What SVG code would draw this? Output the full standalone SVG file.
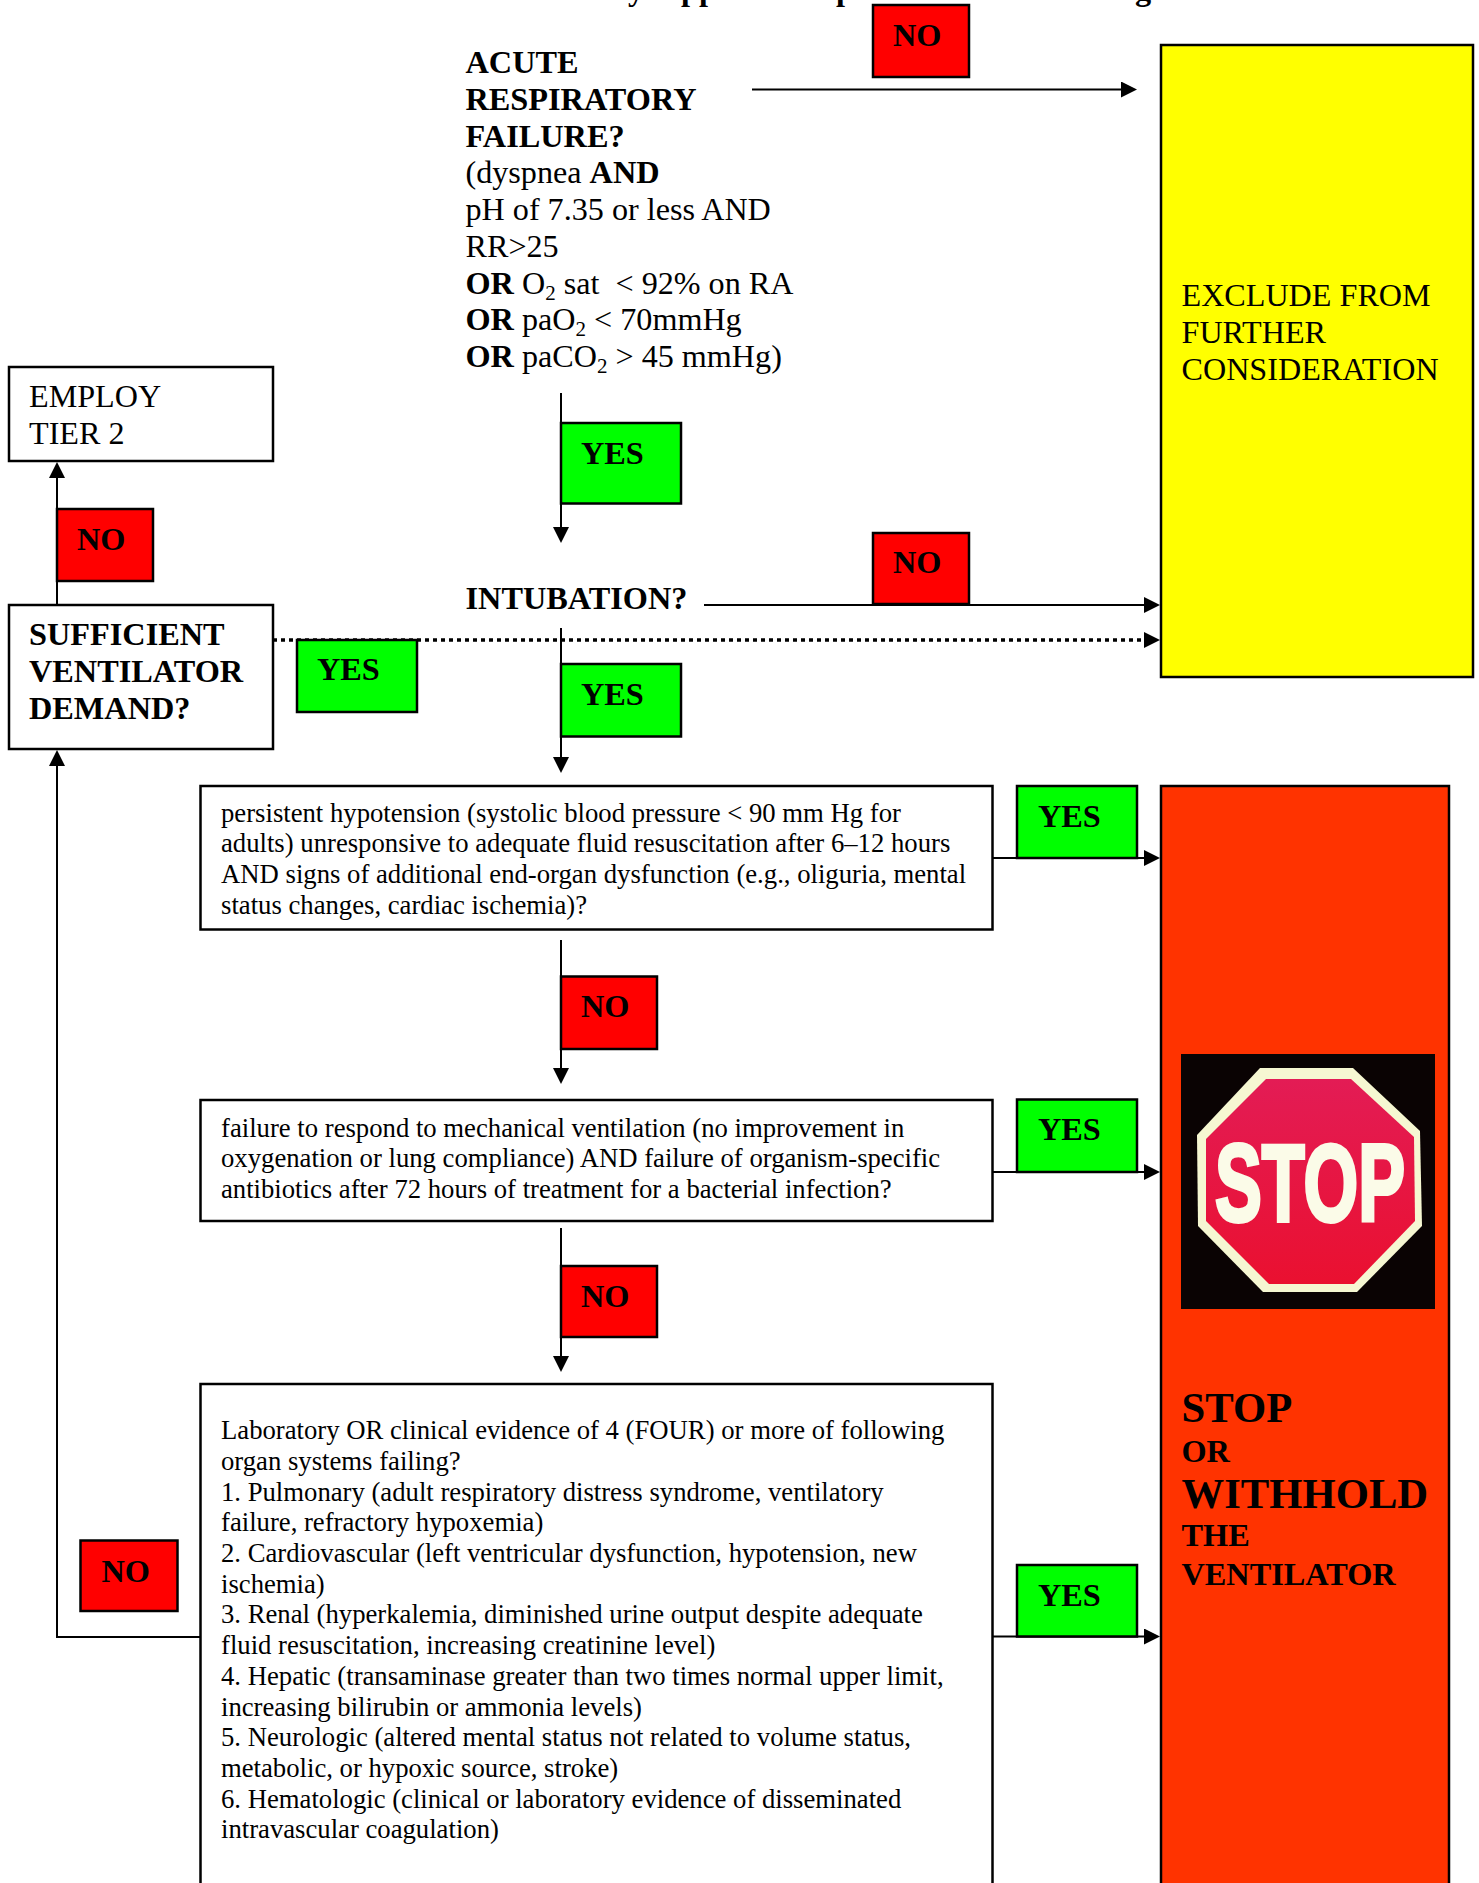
<svg xmlns="http://www.w3.org/2000/svg" width="1479" height="1883" viewBox="0 0 1479 1883">
<style>
text{font-family:"Liberation Serif","Times New Roman",serif;fill:#000;white-space:pre}
.t{font-size:32.15px}
.b{font-size:32.3px;font-weight:bold}
.s{font-size:26.7px}
.sub{font-size:21px}
.box{fill:#fff;stroke:#000;stroke-width:2.5}
.no{fill:#f00;stroke:#000;stroke-width:2.5}
.yes{fill:#0f0;stroke:#000;stroke-width:2.5}
.line{fill:none;stroke:#000;stroke-width:2;marker-end:url(#arrow)}
.dot{fill:none;stroke:#000;stroke-width:3.5;stroke-dasharray:4 4;marker-end:url(#arrow)}
.big{font-size:42.7px;font-weight:bold}
</style>
<defs>
<marker id="arrow" markerUnits="userSpaceOnUse" markerWidth="16" markerHeight="16" refX="8" refY="8" orient="auto"><path d="M0 0L16 8L0 16Z" fill="#000"/></marker>
<linearGradient id="signred" x1="0" y1="0" x2="0" y2="1"><stop offset="0" stop-color="#e31c55"/><stop offset="1" stop-color="#ea1030"/></linearGradient>
</defs>
<rect width="1479" height="1883" fill="#fff"/>
<g id="title-remnant">
<text class="b" x="628" y="0">y</text>
<text class="b" x="681" y="0">pp</text>
<text class="b" x="836" y="0">p</text>
<text class="b" x="1135" y="0">g</text>
</g>
<g id="connectors">
<path class="line" d="M752 89.5H1129"/>
<path class="line" d="M561 393V535"/>
<path class="line" d="M704 605H1152"/>
<path class="dot" d="M273 640H1152"/>
<path class="line" d="M561 628V765"/>
<path class="line" d="M57 605V470"/>
<path class="line" d="M561 940V1076"/>
<path class="line" d="M561 1228V1364"/>
<path class="line" d="M993 858H1152"/>
<path class="line" d="M993 1172H1152"/>
<path class="line" d="M993 1636.5H1152"/>
<path class="line" d="M200 1637H57V758"/>
</g>
<g id="node-respiratory">
<text class="b" x="465.5" y="72.5">ACUTE</text>
<text class="b" x="465.5" y="109.5">RESPIRATORY</text>
<text class="b" x="465.5" y="146.5">FAILURE?</text>
<text class="t" x="465.5" y="183">(dyspnea <tspan class="b">AND</tspan></text>
<text class="t" x="465.5" y="220">pH of 7.35 or less AND</text>
<text class="t" x="465.5" y="256.5">RR&gt;25</text>
<text class="t" x="465.5" y="293.5"><tspan class="b">OR</tspan> O<tspan class="sub" dy="6">2</tspan><tspan dy="-6"> sat  &lt; 92% on RA</tspan></text>
<text class="t" x="465.5" y="330"><tspan class="b">OR</tspan> paO<tspan class="sub" dy="6">2</tspan><tspan dy="-6"> &lt; 70mmHg</tspan></text>
<text class="t" x="465.5" y="367"><tspan class="b">OR</tspan> paCO<tspan class="sub" dy="6">2</tspan><tspan dy="-6"> &gt; 45 mmHg)</tspan></text>
</g>
<g id="label-no-1"><rect class="no" x="873" y="5" width="96" height="72"/><text class="b" x="893" y="45.5">NO</text></g>
<g id="node-exclude">
<rect x="1161" y="45" width="312" height="632" fill="#ff0" stroke="#000" stroke-width="2.5"/>
<text class="t" x="1181.5" y="306">EXCLUDE FROM</text>
<text class="t" x="1181.5" y="343">FURTHER</text>
<text class="t" x="1181.5" y="380">CONSIDERATION</text>
</g>
<g id="node-tier2">
<rect class="box" x="9" y="367" width="264" height="94"/>
<text class="t" x="29" y="407">EMPLOY</text>
<text class="t" x="29" y="444">TIER 2</text>
</g>
<g id="label-yes-1"><rect class="yes" x="561" y="423" width="120" height="80.5"/><text class="b" x="581" y="464">YES</text></g>
<g id="label-no-2"><rect class="no" x="57" y="509" width="96" height="72"/><text class="b" x="77" y="550">NO</text></g>
<g id="label-no-3"><rect class="no" x="873" y="533" width="96" height="71"/><text class="b" x="893" y="573">NO</text></g>
<g id="node-intubation"><text class="b" x="465.5" y="608.5">INTUBATION?</text></g>
<g id="node-demand">
<rect class="box" x="9" y="605" width="264" height="144"/>
<text class="b" x="29" y="644.5">SUFFICIENT</text>
<text class="b" x="29" y="681.5">VENTILATOR</text>
<text class="b" x="29" y="718.5">DEMAND?</text>
</g>
<g id="label-yes-2"><rect class="yes" x="297" y="640" width="120" height="72"/><text class="b" x="317" y="680">YES</text></g>
<g id="label-yes-3"><rect class="yes" x="561" y="664" width="120" height="72.5"/><text class="b" x="581" y="704.5">YES</text></g>
<g id="node-hypotension">
<rect class="box" x="200.5" y="786" width="792" height="143.5"/>
<text class="s" x="221" y="821.5">persistent hypotension (systolic blood pressure &lt; 90 mm Hg for</text>
<text class="s" x="221" y="852">adults) unresponsive to adequate fluid resuscitation after 6–12 hours</text>
<text class="s" x="221" y="883">AND signs of additional end-organ dysfunction (e.g., oliguria, mental</text>
<text class="s" x="221" y="913.5">status changes, cardiac ischemia)?</text>
</g>
<g id="label-yes-4"><rect class="yes" x="1017" y="786" width="120" height="72"/><text class="b" x="1038" y="826.5">YES</text></g>
<g id="label-no-4"><rect class="no" x="561" y="976.5" width="96" height="72.5"/><text class="b" x="581" y="1017">NO</text></g>
<g id="node-ventilation">
<rect class="box" x="200.5" y="1100" width="792" height="121"/>
<text class="s" x="221" y="1136.5">failure to respond to mechanical ventilation (no improvement in</text>
<text class="s" x="221" y="1167">oxygenation or lung compliance) AND failure of organism-specific</text>
<text class="s" x="221" y="1197.5">antibiotics after 72 hours of treatment for a bacterial infection?</text>
</g>
<g id="label-yes-5"><rect class="yes" x="1017" y="1099.5" width="120" height="72.5"/><text class="b" x="1038" y="1140">YES</text></g>
<g id="label-no-5"><rect class="no" x="561" y="1266" width="96" height="71"/><text class="b" x="581" y="1307">NO</text></g>
<g id="node-organs">
<rect class="box" x="200.5" y="1384" width="792" height="520"/>
<text class="s" x="221" y="1439">Laboratory OR clinical evidence of 4 (FOUR) or more of following</text>
<text class="s" x="221" y="1470">organ systems failing?</text>
<text class="s" x="221" y="1500.5">1. Pulmonary (adult respiratory distress syndrome, ventilatory</text>
<text class="s" x="221" y="1531">failure, refractory hypoxemia)</text>
<text class="s" x="221" y="1562">2. Cardiovascular (left ventricular dysfunction, hypotension, new</text>
<text class="s" x="221" y="1593">ischemia)</text>
<text class="s" x="221" y="1623">3. Renal (hyperkalemia, diminished urine output despite adequate</text>
<text class="s" x="221" y="1654">fluid resuscitation, increasing creatinine level)</text>
<text class="s" x="221" y="1685">4. Hepatic (transaminase greater than two times normal upper limit,</text>
<text class="s" x="221" y="1715.5">increasing bilirubin or ammonia levels)</text>
<text class="s" x="221" y="1746">5. Neurologic (altered mental status not related to volume status,</text>
<text class="s" x="221" y="1777">metabolic, or hypoxic source, stroke)</text>
<text class="s" x="221" y="1807.5">6. Hematologic (clinical or laboratory evidence of disseminated</text>
<text class="s" x="221" y="1838">intravascular coagulation)</text>
</g>
<g id="label-no-6"><rect class="no" x="80.5" y="1540.5" width="97" height="70.5"/><text class="b" x="101.5" y="1582">NO</text></g>
<g id="label-yes-6"><rect class="yes" x="1017" y="1565" width="120" height="71.5"/><text class="b" x="1038" y="1605.5">YES</text></g>
<g id="node-stop">
<rect x="1161" y="786" width="288" height="1112" fill="#f30" stroke="#000" stroke-width="2.5"/>
<rect x="1181" y="1054" width="254" height="255" fill="#0a0303"/>
<path d="M1260 1068H1353L1420 1131L1422 1226L1357 1292H1263L1198 1226L1197 1135Z" fill="#f6f7d2"/>
<path d="M1266 1079H1351L1414 1137L1415 1221L1354 1284H1269L1206 1221L1206 1139Z" fill="url(#signred)"/>
<text x="1215" y="1221" textLength="190" lengthAdjust="spacingAndGlyphs" style="font-family:'Liberation Sans',Arial,sans-serif;font-size:110px;font-weight:bold;fill:#fbfbe8;stroke:#fbfbe8;stroke-width:4">STOP</text>
<text class="big" x="1181.5" y="1421.5">STOP</text>
<text class="b" x="1181.5" y="1461.5">OR</text>
<text class="big" x="1181.5" y="1507.5">WITHHOLD</text>
<text class="b" x="1181.5" y="1545.5">THE</text>
<text class="b" x="1181.5" y="1584.5">VENTILATOR</text>
</g>
</svg>
